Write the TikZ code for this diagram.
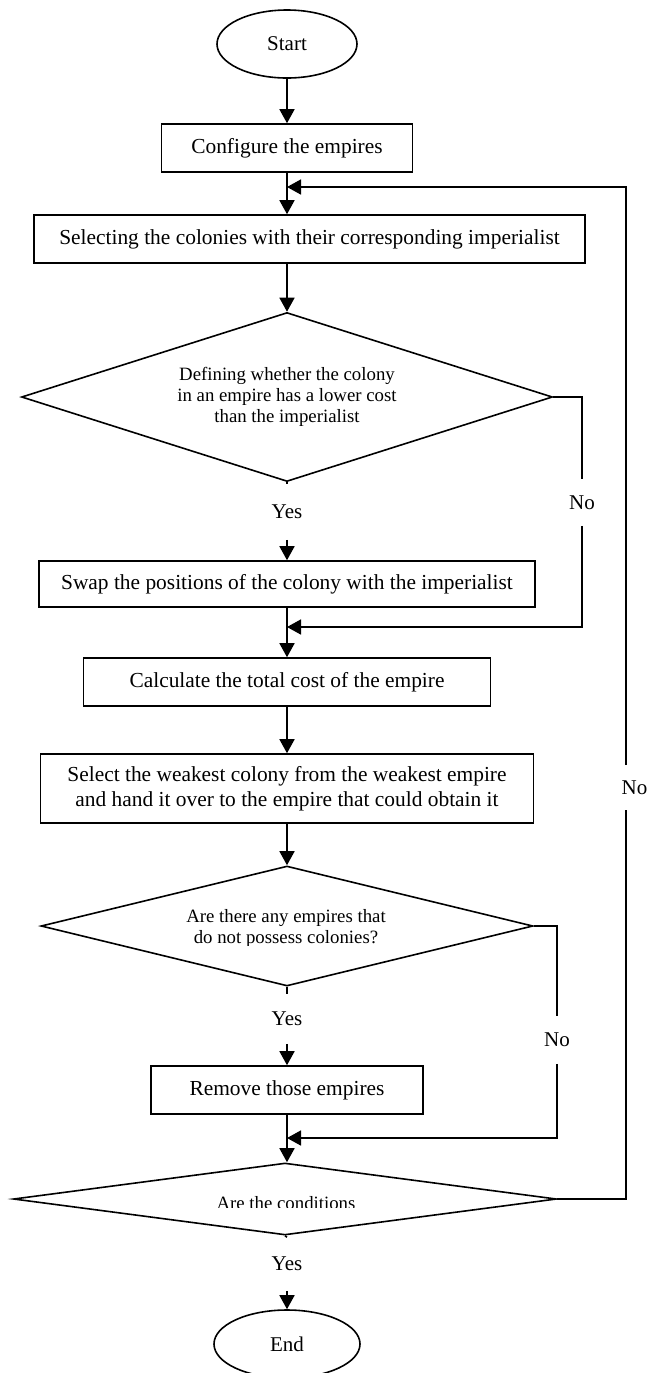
\documentclass[tikz,border=0pt]{standalone}
\usepackage{fontspec}
\setmainfont{Liberation Serif}
\usepackage{tikz}
\usetikzlibrary{shapes.geometric, arrows.meta}

\begin{document}
\begin{tikzpicture}[x=0.5pt, y=-0.5pt, line width=0.8pt,
		arr/.style={-{Triangle[length=7pt, width=7.5pt]}},
		term/.style={draw, ellipse, inner sep=0pt, font=\fontsize{10.5}{12}\selectfont},
		proc/.style={draw, rectangle, inner sep=0pt, align=center, font=\fontsize{10.7}{12.5}\selectfont},
		dtxt/.style={inner sep=0pt, align=center, font=\fontsize{9.4}{10.5}\selectfont},
		dec/.style={draw, diamond, dtxt, aspect=3},
		lbl/.style={inner sep=0pt, font=\fontsize{10.5}{12}\selectfont}]
				
				\useasboundingbox (0,0) rectangle (659,1373);
				
				\node [term, minimum width=70pt, minimum height=34pt] (start) at (287,44) {Start};
				\node [proc, minimum width=125.5pt, minimum height=24pt] (conf) at (287,148) {Configure the empires};
				\node [proc, minimum width=275.5pt, minimum height=24pt] (sel) at (309.5,239) {Selecting the colonies with their corresponding imperialist};
				\node [dec, minimum width=265.5pt, minimum height=84.5pt] (def) at (287,397) {Defining whether the colony\\in an empire has a lower cost\\than the imperialist};
				\node [proc, minimum width=248pt, minimum height=23pt] (swap) at (287,584) {Swap the positions of the colony with the imperialist};
				\node [proc, minimum width=203.5pt, minimum height=24pt] (calc) at (287,682) {Calculate the total cost of the empire};
				\node [proc, minimum width=246.5pt, minimum height=34.5pt] (weak) at (287,788.5) {Select the weakest colony from the weakest empire\\and hand it over to the empire that could obtain it};
				\node [dec, minimum width=246pt, minimum height=60pt] (any) at (287,926) {};
				\node [proc, minimum width=136pt, minimum height=24pt] (rem) at (287,1090) {Remove those empires};
				\node [dec, minimum width=271.5pt, minimum height=36pt] (cond) at (285,1199) {};
				\node [term, minimum width=73pt, minimum height=34pt] (end) at (287,1344) {End};
				
				\begin{scope}
					\clip (150,880) rectangle (430,945);
					\node [dtxt] (anytxt) at (286,928) {Are there any empires that\\do not possess colonies?};
				\end{scope}
				\begin{scope}
					\clip (150,1170) rectangle (430,1207);
					\node [dtxt] (condtxt) at (286,1203) {Are the conditions};
				\end{scope}
				
				\node [lbl, minimum height=27pt] (yes1) at (287,512) {Yes};
				\node [lbl, minimum height=24pt] (yes2) at (287,1019) {Yes};
				\node [lbl, minimum height=26pt] (yes3) at (287,1264) {Yes};
				\node [lbl, minimum height=22.5pt] (no1) at (582,502.5) {No};
				\node [lbl, minimum height=23pt] (no2) at (557,1040) {No};
				\node [lbl] (no3) at (634.5,788) {No};
				
				\coordinate (loop) at (287,187);
				\coordinate (j1) at (287,627);
				\coordinate (j2) at (287,1138);
				\coordinate (n3a) at (626,765);
				\coordinate (n3b) at (626,810);
				
				\draw [arr] (start.south) -- (start.south |- conf.north);
				\draw [arr] (conf.south) -- (conf.south |- sel.north);
				\draw [arr] (def.north |- sel.south) -- (def.north);
				\draw (def.south) -- (yes1.north);
				\draw [arr] (yes1.south) -- (yes1.south |- swap.north);
				\draw [arr] (swap.south) -- (swap.south |- calc.north);
				\draw [arr] (calc.south) -- (calc.south |- weak.north);
				\draw [arr] (weak.south) -- (weak.south |- any.north);
				\draw (any.south) -- (yes2.north);
				\draw [arr] (yes2.south) -- (yes2.south |- rem.north);
				\draw [arr] (rem.south) -- (rem.south |- cond.north);
				\draw (cond.south) -- (yes3.north);
				\draw [arr] (yes3.south) -- (yes3.south |- end.north);
				
				\draw (def.east) -| (no1.north);
				\draw [arr] (no1.south) |- (j1);
				\draw (any.east) -| (no2.north);
				\draw [arr] (no2.south) |- (j2);
				\draw (cond.east) -| (n3b);
				\draw [arr] (n3a) |- (loop);
		\end{tikzpicture}
\end{document}
